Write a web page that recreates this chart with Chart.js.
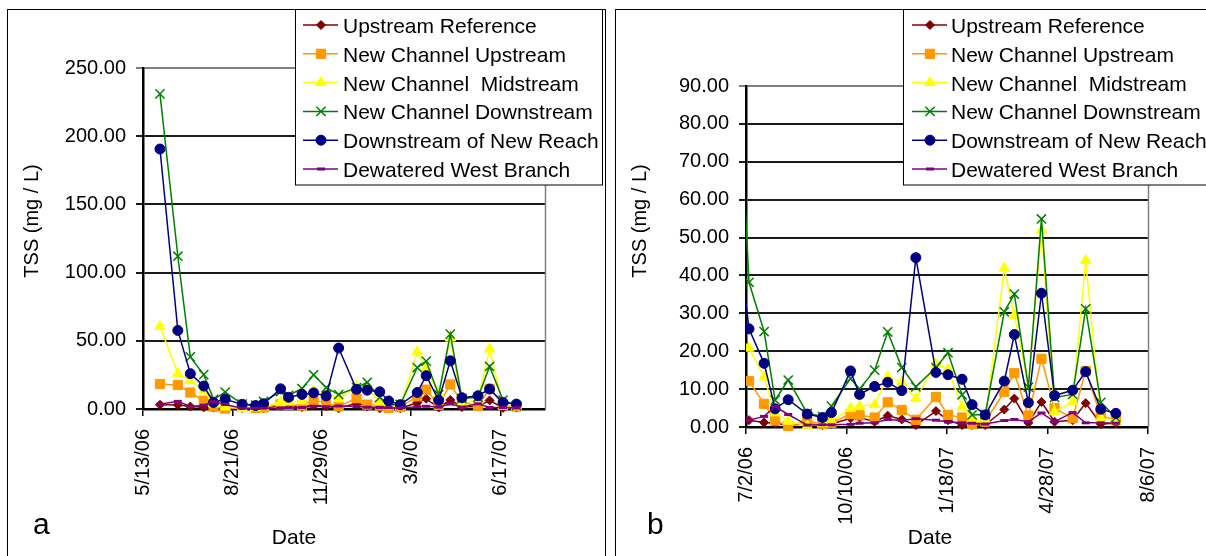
<!DOCTYPE html>
<html><head><meta charset="utf-8">
<script src="https://cdn.jsdelivr.net/npm/chart.js@4.4.1/dist/chart.umd.min.js"></script>
<style>
html,body{margin:0;padding:0;background:#fff;overflow:hidden;width:1206px;height:556px;position:relative;}
.panel{position:absolute;top:9px;border:1px solid #000;border-bottom:none;overflow:hidden;}
#pa{left:7px;width:597px;height:560px;}
#pb{left:615px;width:600px;height:560px;}
canvas{display:block;}
</style></head><body>
<div class="panel" id="pa"><canvas id="ca" width="597" height="546" style="width:597px;height:546px"></canvas></div>
<div class="panel" id="pb"><canvas id="cb" width="600" height="546" style="width:600px;height:546px"></canvas></div>
<script>
// ---------------- data ----------------
const sampleDates = ['2006-06-01','2006-06-21','2006-07-05','2006-07-20','2006-07-31','2006-08-13','2006-09-01','2006-09-16','2006-09-25','2006-10-14','2006-10-23','2006-11-07','2006-11-20','2006-12-04','2006-12-18','2007-01-07','2007-01-19','2007-02-02','2007-02-12','2007-02-25','2007-03-16','2007-03-26','2007-04-09','2007-04-22','2007-05-05','2007-05-23','2007-06-05','2007-06-20','2007-07-05'];
const upstreamReference    = [3.1,3.0,1.8,1.2,1.0,0.5,0.8,0.5,0.8,2.3,2.5,1.4,3.0,2.0,0.5,4.2,1.8,0.5,0.5,0.5,4.6,7.5,1.1,6.6,1.4,1.8,6.3,0.8,1.0];
const newChannelUpstream   = [18.3,17.5,12.1,6.1,1.7,0.3,1.5,0.8,1.1,3.4,3.1,2.5,6.5,4.5,1.9,7.9,3.2,2.5,0.8,1.4,9.3,14.2,3.0,18.0,5.0,2.3,14.8,3.0,1.8];
const newChannelMidstream  = [60.5,26.0,20.8,13.2,3.7,1.5,0.3,0.9,1.6,4.9,5.5,5.9,13.3,11.8,7.5,16.7,15.2,5.3,2.0,1.7,41.9,29.5,11.0,52.0,4.0,6.6,44.0,2.3,1.8];
const newChannelDownstream = [231,112,38.2,25.2,7.1,12.4,3.6,2.8,5.5,12.8,10.0,15.0,25.1,15.7,10.6,15.7,19.6,8.5,3.2,3.3,30.4,35.1,10.5,54.9,7.8,8.6,31.2,6.5,2.5];
const downstreamOfNewReach = [190.6,57.6,25.9,16.8,4.8,7.2,3.4,2.5,3.8,14.8,8.6,10.7,11.8,9.6,44.7,14.4,13.8,12.6,5.9,3.2,12.1,24.4,6.4,35.3,8.3,9.7,14.6,4.7,3.6];
const dewateredWestBranch  = [3.5,5.6,1.8,2.8,5.4,3.3,0.5,0.6,0.6,0.7,1.0,1.1,2.0,1.7,2.2,1.8,1.3,1.1,1.0,0.8,1.7,2.0,1.4,3.7,1.4,3.8,1.1,1.1,1.0];
const seriesNames = ['Upstream Reference','New Channel Upstream','New Channel  Midstream','New Channel Downstream','Downstream of New Reach','Dewatered West Branch'];
const seriesValues = [upstreamReference,newChannelUpstream,newChannelMidstream,newChannelDownstream,downstreamOfNewReach,dewateredWestBranch];
const xTickDatesA = ['2006-05-13','2006-08-21','2006-11-29','2007-03-09','2007-06-17'];
const xTickDatesB = ['2006-07-02','2006-10-10','2007-01-18','2007-04-28','2007-08-06'];
const xRangeA = ['2006-05-13','2007-08-06'];
const xRangeB = ['2006-07-02','2007-08-06'];
const yTitle = 'TSS (mg / L)';
const xTitle = 'Date';

// ---------------- styles ----------------
const FONT = '"Liberation Sans", Arial, sans-serif';
const styles = [
  {color:'#800000', style:'rectRot', r:4.5, bw:1},
  {color:'#FF9900', style:'rect', r:6.5, bw:1},
  {color:'#FFFF00', style:'triangle', r:6, bw:1},
  {color:'#008000', style:'crossRot', r:6.5, bw:1.5},
  {color:'#000080', style:'circle', r:5, bw:1},
  {color:'#800080', style:'line', r:4, bw:3}
];

const DAY0 = Date.UTC(2006,4,13);
function dayOf(s){const p=s.split('-').map(Number);return (Date.UTC(p[0],p[1]-1,p[2])-DAY0)/86400000;}
function fmt(v){const d=new Date(DAY0+v*86400000);return (d.getUTCMonth()+1)+'/'+d.getUTCDate()+'/'+String(d.getUTCFullYear()).slice(2);}

function drawMarker(ctx, st, x, y){
  ctx.save();
  ctx.fillStyle = st.color; ctx.strokeStyle = st.color; ctx.lineWidth = st.bw;
  const r = st.r;
  ctx.beginPath();
  if (st.style==='circle'){ ctx.arc(x,y,r,0,Math.PI*2); ctx.fill(); ctx.stroke(); }
  else if (st.style==='rect'){ const s=Math.SQRT1_2*r; ctx.rect(x-s,y-s,2*s,2*s); ctx.fill(); ctx.stroke(); }
  else if (st.style==='rectRot'){ ctx.moveTo(x-r,y); ctx.lineTo(x,y-r); ctx.lineTo(x+r,y); ctx.lineTo(x,y+r); ctx.closePath(); ctx.fill(); ctx.stroke(); }
  else if (st.style==='triangle'){ const a=2*Math.PI/3; ctx.moveTo(x, y-r); ctx.lineTo(x+Math.sin(a)*r, y-Math.cos(a)*r); ctx.lineTo(x+Math.sin(2*a)*r, y-Math.cos(2*a)*r); ctx.closePath(); ctx.fill(); ctx.stroke(); }
  else if (st.style==='crossRot'){ const o=Math.SQRT1_2*r; ctx.moveTo(x-o,y-o); ctx.lineTo(x+o,y+o); ctx.moveTo(x-o,y+o); ctx.lineTo(x+o,y-o); ctx.stroke(); }
  else if (st.style==='line'){ ctx.moveTo(x-r,y); ctx.lineTo(x+r,y); ctx.stroke(); }
  ctx.restore();
}

function makePanel(canvasId, o){
  const datasets = seriesValues.map((vals,i)=>({
    label: seriesNames[i],
    data: sampleDates.map((d,j)=>({x:dayOf(d), y:vals[j]})),
    borderColor: styles[i].color,
    backgroundColor: styles[i].color,
    borderWidth: 1.5,
    pointStyle: styles[i].style,
    pointRadius: styles[i].r,
    pointBorderWidth: styles[i].bw,
    pointBackgroundColor: styles[i].color,
    pointBorderColor: styles[i].color,
    tension: 0,
    fill: false,
    order: 5 - i,
    clip: {left:0, top:0, right:0, bottom:12}
  }));
  const tickVals = o.ticks.map(dayOf);
  const plugin = {
    id: 'panelDeco',
    beforeDatasetsDraw(chart){
      const {ctx, chartArea:a} = chart;
      ctx.save(); ctx.strokeStyle='#808080'; ctx.lineWidth=1.5;
      const xr = Math.round(a.right)+0.5;
      ctx.beginPath(); ctx.moveTo(xr, a.top); ctx.lineTo(xr, a.bottom); ctx.stroke();
      ctx.restore();
    },
    afterDraw(chart){
      const ctx = chart.ctx;
      ctx.save();
      // legend
      ctx.fillStyle='#fff'; ctx.fillRect(287, -1, o.legendW, 176);
      ctx.strokeStyle='#000'; ctx.lineWidth=1; ctx.strokeRect(287.5, -0.5, o.legendW, 175.5);
      for (let i=0;i<6;i++){
        const y = 15 + i*28.8;
        ctx.strokeStyle = styles[i].color; ctx.lineWidth = 1.5;
        ctx.beginPath(); ctx.moveTo(o.legX0, y); ctx.lineTo(o.legX0+35, y); ctx.stroke();
        drawMarker(ctx, styles[i], o.legX0+18, y);
        ctx.fillStyle='#000'; ctx.font = '21px '+FONT; ctx.textAlign='left'; ctx.textBaseline='alphabetic';
        ctx.fillText(seriesNames[i], 335, y+8);
      }
      // titles
      ctx.fillStyle='#000';
      ctx.font = '20px '+FONT; ctx.textAlign='center'; ctx.textBaseline='middle';
      ctx.save(); ctx.translate(24, 211); ctx.rotate(-Math.PI/2); ctx.fillText(yTitle, 0, 0); ctx.restore();
      ctx.font = '21px '+FONT;
      ctx.fillText(xTitle, o.dateX, 528);
      ctx.font = '30px '+FONT; ctx.textAlign='left'; ctx.textBaseline='alphabetic';
      ctx.fillText(o.letter, o.letterX, 524);
      ctx.restore();
    }
  };
  return new Chart(document.getElementById(canvasId), {
    type: 'line',
    data: {datasets},
    options: {
      responsive:false, animation:false, devicePixelRatio:1,
      layout:{padding:{left:0, top:o.top, right:o.rightPad, bottom:0}},
      plugins:{legend:{display:false}, tooltip:{enabled:false}},
      scales:{
        x:{
          type:'linear', min:dayOf(o.range[0]), max:dayOf(o.range[1]),
          afterBuildTicks: ax => { ax.ticks = tickVals.map(v=>({value:v})); },
          afterFit: s => { s.height = o.xAxisH; },
          grid:{drawOnChartArea:false, drawTicks:true, tickLength:7, color:'#000', lineWidth:1.5},
          border:{color:'#000', width:2.5},
          ticks:{autoSkip:false, maxRotation:90, minRotation:90, padding:13, color:'#000', font:{family:FONT, size:20}, callback: v => fmt(v)}
        },
        y:{
          min:0, max:o.yMax,
          afterFit: s => { s.width = o.left; },
          grid:{color: c => (c.tick && c.tick.value===o.yMax) ? '#808080' : '#1a1a1a', lineWidth:2, tickLength:7, drawTicks:true},
          border:{color:'#000', width:2.5},
          ticks:{stepSize:o.yStep, padding:10, color:'#000', font:{family:FONT, size:20}, callback: v => Number(v).toFixed(2)}
        }
      }
    },
    plugins:[plugin]
  });
}

makePanel('ca', {range:xRangeA, ticks:xTickDatesA, yMax:250, yStep:50, left:135, top:58, rightPad:60, xAxisH:147,
  legendW:307, legX0:295, dateX:286, letter:'a', letterX:25});
makePanel('cb', {range:xRangeB, ticks:xTickDatesB, yMax:90, yStep:10, left:130, top:76, rightPad:68, xAxisH:129,
  legendW:400, legX0:296, dateX:314, letter:'b', letterX:31});
</script>
</body></html>
